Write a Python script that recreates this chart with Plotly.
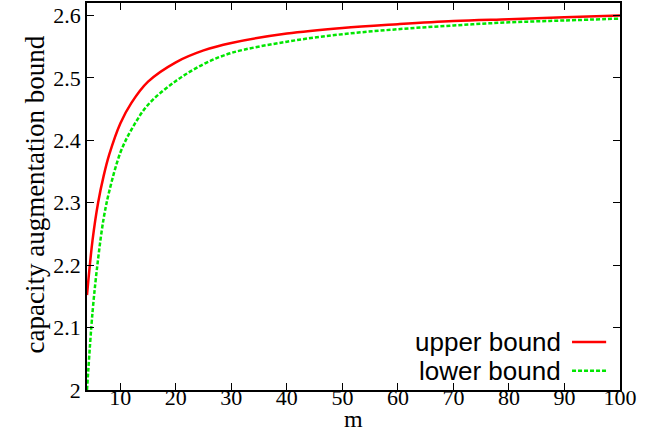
import plotly.graph_objects as go

# Data
m_values = [4, 5, 6, 7, 8, 10, 12, 15, 20, 25, 30, 40, 50, 60, 70, 80, 90, 100]
upper_bound = [2.152, 2.240, 2.300, 2.343, 2.377, 2.427, 2.460, 2.494, 2.525, 2.544,
               2.556, 2.571, 2.580, 2.586, 2.591, 2.594, 2.597, 2.600]
lower_bound = [2.000, 2.125, 2.210, 2.275, 2.318, 2.380, 2.417, 2.457, 2.495, 2.522,
               2.540, 2.558, 2.570, 2.578, 2.584, 2.589, 2.592, 2.595]
series_names = ["upper bound", "lower bound"]
x_ticks = [10, 20, 30, 40, 50, 60, 70, 80, 90, 100]
y_ticks = [2.0, 2.1, 2.2, 2.3, 2.4, 2.5, 2.6]
y_tick_labels = ["2", "2.1", "2.2", "2.3", "2.4", "2.5", "2.6"]
x_title = "m"
y_title = "capacity augmentation bound"

colors = ["#ff0000", "#00e600"]
dashes = ["solid", "4px,2px"]

fig = go.Figure()
for name, ys, c, d in zip(series_names, [upper_bound, lower_bound], colors, dashes):
    fig.add_trace(go.Scatter(x=m_values, y=ys, mode="lines", name=name,
                             line=dict(color=c, width=2.5, dash=d, shape="spline", smoothing=1.0),
                             showlegend=False))

serif = "Liberation Serif, Times New Roman, serif"
sans = "Liberation Sans, Arial, sans-serif"

fig.update_layout(
    width=655, height=434,
    margin=dict(l=87, r=35, t=3, b=44),
    paper_bgcolor="white", plot_bgcolor="white",
    font=dict(family=serif, size=22, color="black"),
    xaxis=dict(range=[4, 100], tickvals=x_ticks, ticks="inside", ticklen=7, tickwidth=1.2,
               tickcolor="black", showline=True, linecolor="black", linewidth=1.5,
               mirror="ticks", showgrid=False, zeroline=False, automargin=False,
               ticklabelstandoff=-13,
               tickfont=dict(family=serif, size=22)),
    yaxis=dict(range=[2, 2.62], tickvals=y_ticks, ticktext=y_tick_labels, ticks="inside",
               ticklen=7, tickwidth=1.2, tickcolor="black", showline=True, linecolor="black",
               linewidth=1.5, mirror="ticks", showgrid=False, zeroline=False, automargin=False,
               tickfont=dict(family=serif, size=22)),
)

# axis titles
fig.add_annotation(xref="paper", yref="paper", x=0.5, y=-0.1137, text=x_title, showarrow=False,
                   xanchor="center", yanchor="bottom", font=dict(family=serif, size=24))
fig.add_annotation(xref="paper", yref="paper", x=-0.0976, y=0.505, text=y_title, showarrow=False,
                   textangle=-90, xanchor="center", yanchor="middle",
                   font=dict(family=serif, size=27))

# gnuplot-style key: text right-aligned, line sample to the right
key_rows_y = [0.124, 0.050]
for name, c, d, ky in zip(series_names, colors, dashes, key_rows_y):
    fig.add_annotation(xref="paper", yref="paper", x=0.893, y=ky, text=name,
                       showarrow=False, xanchor="right", yanchor="middle",
                       font=dict(family=sans, size=26, color="black"))
    fig.add_shape(type="line", xref="paper", yref="paper", x0=0.910, x1=0.974, y0=ky, y1=ky,
                  line=dict(color=c, width=2.5, dash=d))

fig.write_html("out.html")
